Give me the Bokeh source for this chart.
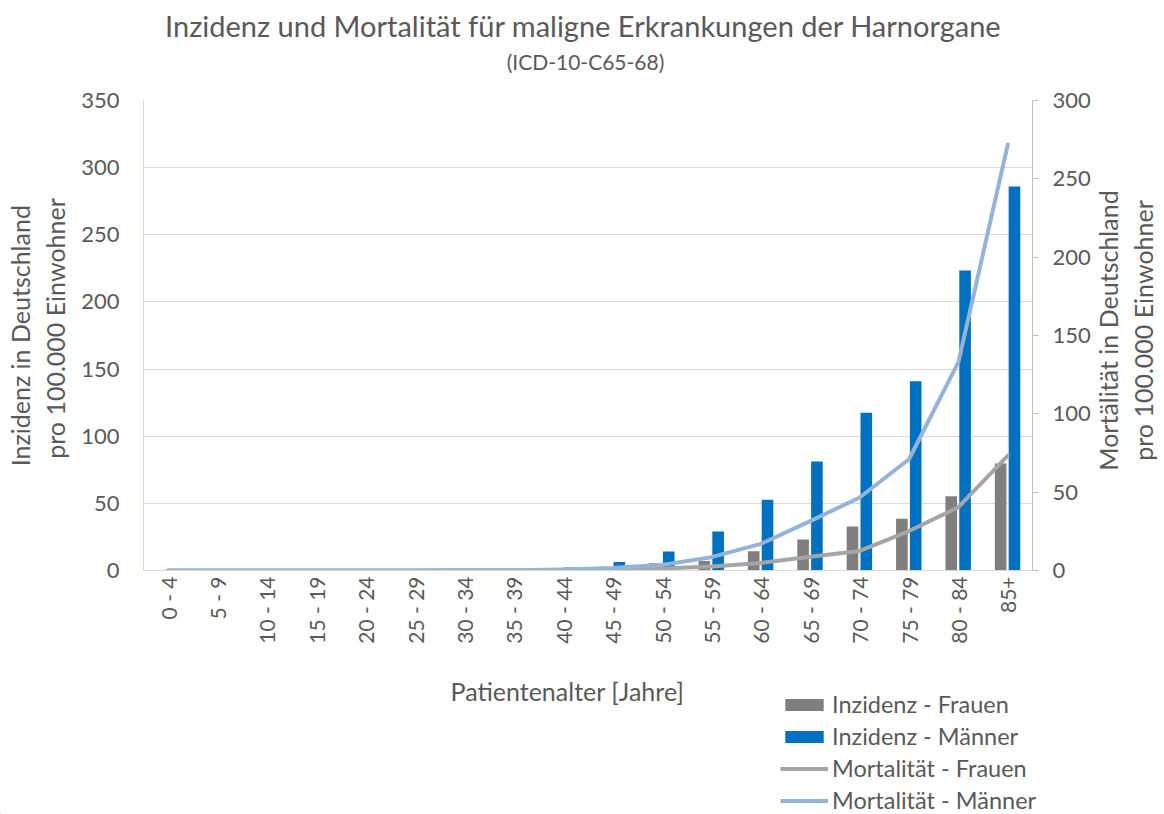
from math import pi
from bokeh.plotting import figure
from bokeh.layouts import column, row
from bokeh.models import (ColumnDataSource, FactorRange, Range1d, LinearAxis,
                          SingleIntervalTicker, Legend, LegendItem, Label)
from bokeh.transform import dodge
from bokeh.embed import file_html
from bokeh.resources import INLINE

age_groups = ["0 - 4", "5 - 9", "10 - 14", "15 - 19", "20 - 24", "25 - 29",
              "30 - 34", "35 - 39", "40 - 44", "45 - 49", "50 - 54", "55 - 59",
              "60 - 64", "65 - 69", "70 - 74", "75 - 79", "80 - 84", "85+"]
inzidenz_frauen = [0.1, 0.0, 0.0, 0.0, 0.1, 0.1, 0.2, 0.4, 0.9, 2.0, 5.5, 7.0,
                   14.4, 23.0, 32.7, 38.6, 55.2, 79.7]
inzidenz_maenner = [0.1, 0.0, 0.0, 0.1, 0.1, 0.2, 0.4, 0.8, 2.2, 6.3, 14.1, 29.0,
                    52.6, 81.2, 117.4, 141.0, 223.4, 286.0]
mortalitaet_frauen = [0.0, 0.0, 0.0, 0.0, 0.0, 0.0, 0.1, 0.1, 0.3, 0.7, 1.2, 2.6,
                      4.8, 8.8, 12.5, 25.2, 40.4, 73.4]
mortalitaet_maenner = [0.0, 0.0, 0.0, 0.0, 0.0, 0.0, 0.1, 0.2, 0.6, 1.6, 3.6, 8.5,
                       17.0, 31.5, 46.6, 71.0, 133.0, 271.9]

title_text = "Inzidenz und Mortalität für maligne Erkrankungen der Harnorgane"
subtitle_text = "(ICD-10-C65-68)"
x_title = "Patientenalter [Jahre]"
left_title = ["Inzidenz  in Deutschland", "pro 100.000 Einwohner"]
right_title = ["Mortälität in Deutschland", "pro 100.000 Einwohner"]
series_names = ["Inzidenz - Frauen", "Inzidenz - Männer",
                "Mortalität - Frauen", "Mortalität - Männer"]

FONT = "Lato"
TXT = "#595959"
GRID = "#D9D9D9"
C_INZ_F = "#7F7F7F"
C_INZ_M = "#0070C0"
C_MORT_F = "#A5A5A5"
C_MORT_M = "#95B3D7"

W = 1164
TOP_H, MID_H, BOT_H = 86, 589, 139
LEFT_W, RIGHT_W = 78, 71
MAIN_W = W - LEFT_W - RIGHT_W
FRAME_TOP, FRAME_BOTTOM = 100, 570   # page rows of the chart's plot area


def strip(w, h, y_range=None):
    f = figure(width=w, height=h, x_range=Range1d(0, w),
               y_range=y_range if y_range is not None else Range1d(0, h),
               x_axis_type=None, y_axis_type=None, min_border=0,
               min_border_left=0, min_border_right=0, min_border_top=0,
               min_border_bottom=0, output_backend="svg", toolbar_location=None)
    f.outline_line_color = None
    f.background_fill_color = "white"
    f.border_fill_color = "white"
    return f


def lab(f, text, x, y, size, angle=0.0):
    f.add_layout(Label(x=x, y=y, text=text, angle=angle, text_align="center",
                       text_baseline="middle", text_font=FONT,
                       text_font_size=size, text_color=TXT))


# ---------- title strip ----------
top = strip(W, TOP_H)
lab(top, title_text, 583, TOP_H - 25, "29px")
lab(top, subtitle_text, 585, TOP_H - 61, "21px")

# ---------- left / right axis-title strips (rows aligned with the plot area) ----------
left = strip(LEFT_W, MID_H, Range1d(FRAME_BOTTOM, FRAME_TOP))
lab(left, left_title[0], 19, 332, "25px", pi / 2)
lab(left, left_title[1], 54, 328, "25px", pi / 2)

right = strip(RIGHT_W, MID_H, Range1d(FRAME_BOTTOM, FRAME_TOP))
lab(right, right_title[0], 14.5, 330, "25px", pi / 2)
lab(right, right_title[1], 49, 330, "25px", pi / 2)

# ---------- main chart ----------
src = ColumnDataSource(dict(age=age_groups, inz_f=inzidenz_frauen,
                            inz_m=inzidenz_maenner, mort_f=mortalitaet_frauen,
                            mort_m=mortalitaet_maenner))

p = figure(x_range=FactorRange(factors=age_groups, range_padding=0, factor_padding=0),
           y_range=Range1d(0, 350), width=MAIN_W, height=MID_H,
           min_border_left=60, min_border_right=60, min_border_top=14,
           min_border_bottom=105, output_backend="svg", toolbar_location=None)
p.outline_line_color = None
p.background_fill_color = "white"
p.border_fill_color = "white"
p.extra_y_ranges = {"mort": Range1d(0, 300)}

ya = p.yaxis[0]
ya.ticker = SingleIntervalTicker(interval=50, num_minor_ticks=0)
ya.major_tick_line_color = None
ya.minor_tick_line_color = None
ya.axis_line_color = GRID
ya.major_label_standoff = 18
ya.major_label_text_font = FONT
ya.major_label_text_font_size = "22px"
ya.major_label_text_color = TXT

ra = LinearAxis(y_range_name="mort",
                ticker=SingleIntervalTicker(interval=50, num_minor_ticks=0))
ra.axis_line_color = "#BFBFBF"
ra.major_tick_line_color = "#BFBFBF"
ra.major_tick_out = 6
ra.major_tick_in = 0
ra.minor_tick_line_color = None
ra.major_label_standoff = 14
ra.major_label_text_font = FONT
ra.major_label_text_font_size = "22px"
ra.major_label_text_color = TXT
p.add_layout(ra, "right")

xa = p.xaxis[0]
xa.major_label_orientation = pi / 2
xa.major_tick_line_color = None
xa.axis_line_color = GRID
xa.major_label_standoff = 0
xa.major_label_text_font = FONT
xa.major_label_text_font_size = "21px"
xa.major_label_text_color = TXT

p.xgrid.grid_line_color = None
p.ygrid.grid_line_color = GRID

p.vbar(x=dodge("age", -0.145, range=p.x_range), top="inz_f", width=0.235,
       source=src, fill_color=C_INZ_F, line_color=None)
p.vbar(x=dodge("age", 0.135, range=p.x_range), top="inz_m", width=0.235,
       source=src, fill_color=C_INZ_M, line_color=None)
p.line(x="age", y="mort_f", y_range_name="mort", source=src,
       line_color=C_MORT_F, line_width=4, line_join="round", line_cap="round")
p.line(x="age", y="mort_m", y_range_name="mort", source=src,
       line_color=C_MORT_M, line_width=4, line_join="round", line_cap="round")

# ---------- bottom strip: x title + legend ----------
bot = strip(W, BOT_H)
lab(bot, x_title, 567, BOT_H - 15, "25px")
# legend proxies: same styles as the chart series, kept outside the visible strip
k1 = bot.vbar(x=[-50], top=[1], width=1, fill_color=C_INZ_F, line_color=None)
k2 = bot.vbar(x=[-50], top=[1], width=1, fill_color=C_INZ_M, line_color=None)
k3 = bot.line(x=[-60, -50], y=[1, 1], line_color=C_MORT_F, line_width=4)
k4 = bot.line(x=[-60, -50], y=[1, 1], line_color=C_MORT_M, line_width=4)
legend = Legend(items=[LegendItem(label=series_names[0], renderers=[k1]),
                       LegendItem(label=series_names[1], renderers=[k2]),
                       LegendItem(label=series_names[2], renderers=[k3]),
                       LegendItem(label=series_names[3], renderers=[k4])],
                location=(780, -1), orientation="vertical",
                glyph_width=48, glyph_height=15, label_height=30,
                label_standoff=4, spacing=2, padding=0, margin=0,
                border_line_color=None, background_fill_alpha=0,
                label_text_font=FONT, label_text_font_size="23.5px",
                label_text_color=TXT)
bot.add_layout(legend)

layout = column(top, row(left, p, right), bot)
open("out.html", "w").write(file_html(layout, INLINE))
